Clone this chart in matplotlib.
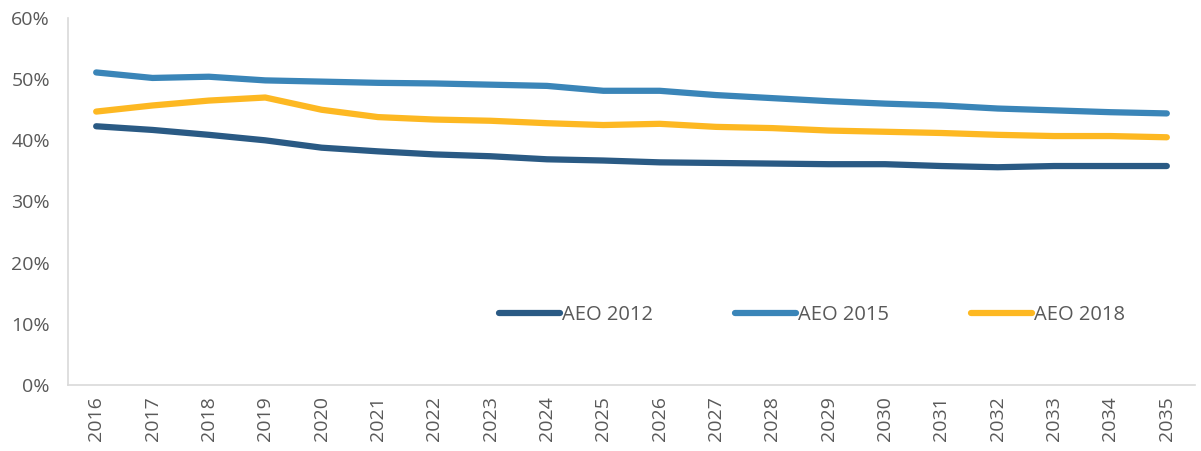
import numpy as np
import matplotlib.pyplot as plt
from matplotlib.ticker import PercentFormatter

# years on the category axis
years = [str(y) for y in range(2016, 2036)]

# share values (%)
aeo_2012 = [42.3, 41.7, 40.9, 40.0, 38.8, 38.2, 37.7, 37.4, 36.9, 36.7,
            36.4, 36.3, 36.2, 36.1, 36.1, 35.8, 35.6, 35.8, 35.8, 35.8]
aeo_2015 = [51.1, 50.2, 50.4, 49.8, 49.6, 49.4, 49.3, 49.1, 48.9, 48.1,
            48.1, 47.4, 46.9, 46.4, 46.0, 45.7, 45.2, 44.9, 44.6, 44.4]
aeo_2018 = [44.7, 45.7, 46.5, 47.0, 45.0, 43.8, 43.4, 43.2, 42.8, 42.5,
            42.7, 42.2, 42.0, 41.6, 41.4, 41.2, 40.9, 40.7, 40.7, 40.5]

labels = ['AEO 2012', 'AEO 2015', 'AEO 2018']
colors = ['#2a5a84', '#3a85b8', '#fdb822']

plt.rcParams['font.family'] = ['Open Sans', 'DejaVu Sans']

fig = plt.figure(figsize=(12.01, 4.51), dpi=100)
ax = fig.add_axes([68/1201, 66/451, (1195-68)/1201, (385-18)/451])

x = np.arange(len(years))
for ys, lab, col in zip([aeo_2012, aeo_2015, aeo_2018], labels, colors):
    ax.plot(x, ys, color=col, lw=4.5, label=lab, solid_capstyle='round')

ax.set_xlim(-0.5, len(years) - 0.5)
ax.set_ylim(0, 60)
ax.set_yticks(np.arange(0, 61, 10))
ax.yaxis.set_major_formatter(PercentFormatter(decimals=0))
ax.set_xticks(x)
ax.set_xticklabels(years, rotation=90)

for s in ['top', 'right']:
    ax.spines[s].set_visible(False)
for s in ['left', 'bottom']:
    ax.spines[s].set_color('#d9d9d9')
    ax.spines[s].set_linewidth(1.2)
ax.tick_params(axis='both', length=0, colors='#595959', labelsize=14)
ax.tick_params(axis='y', pad=13)
ax.tick_params(axis='x', pad=8)

leg = ax.legend(ncol=3, loc='center', bbox_to_anchor=(0.66, 0.19), frameon=False,
                fontsize=14.5, handlelength=3.0, handletextpad=0.1,
                columnspacing=4.1)
for t in leg.get_texts():
    t.set_color('#595959')

fig.savefig('out.png', dpi=100)
